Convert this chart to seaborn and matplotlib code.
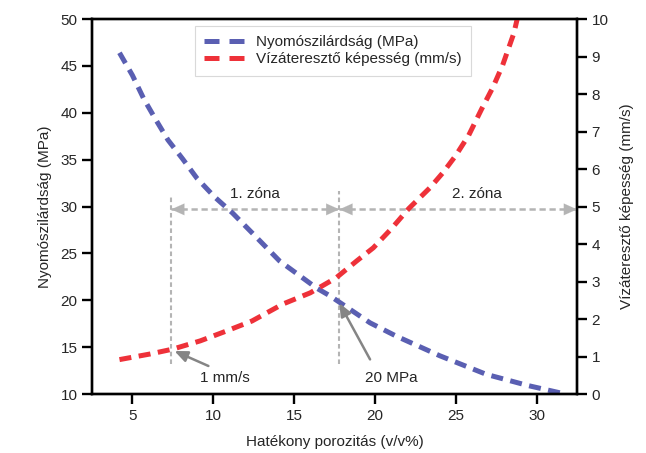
import matplotlib
matplotlib.use("Agg")
import matplotlib.pyplot as plt
from matplotlib.lines import Line2D
import seaborn as sns
import pandas as pd

# Compressive strength curve (left axis, MPa)
blue_x = [4.2, 5.0, 5.7, 6.4, 7.2, 8.1, 9.0, 10.1, 11.2, 12.4, 14.1, 16.4, 17.2,
          19.7, 21.3, 24.0, 26.9, 29.5, 31.8]
blue_y = [46.4, 44.0, 41.5, 39.4, 37.1, 35.1, 33.0, 31.0, 29.3, 27.2, 24.2, 21.3, 20.5,
          17.6, 16.2, 14.1, 12.1, 10.9, 10.0]

# Permeability curve (right axis, mm/s)
red_x = [4.2, 6.1, 7.5, 9.2, 10.8, 12.4, 14.3, 16.0, 17.6, 18.9, 19.9, 21.0, 22.1,
         23.4, 24.2, 25.0, 25.8, 26.6, 27.3, 27.9, 28.6, 28.8]
red_y = [0.92, 1.07, 1.2, 1.42, 1.68, 1.95, 2.4, 2.7, 3.1, 3.56, 3.9, 4.4, 4.95,
         5.5, 5.9, 6.36, 6.9, 7.6, 8.18, 8.77, 9.63, 10.0]

blue_label = "Nyomószilárdság (MPa)"
red_label = "Vízáteresztő képesség (mm/s)"

zone_x = [7.4, 17.8, 32.5]
zone_y = 29.7
zone_labels = ["1. zóna", "2. zóna"]

BLUE = "#5a5fb2"
RED = "#ee3139"
GRAY = "#b4b4b4"
DARK_GRAY = "#858585"

sns.set_style("ticks")
plt.rcParams["font.family"] = ["Liberation Sans", "DejaVu Sans"]
plt.rcParams["font.size"] = 11

fig = plt.figure(figsize=(6.46, 4.53), dpi=100)
ax = fig.add_axes([0.1424, 0.130, 0.7508, 0.828])
ax2 = ax.twinx()

df_blue = pd.DataFrame({"x": blue_x, "y": blue_y})
df_red = pd.DataFrame({"x": red_x, "y": red_y})

sns.lineplot(data=df_blue, x="x", y="y", ax=ax, color=BLUE, lw=3.6,
             dashes=False, sort=False, legend=False)
ax.lines[-1].set_dashes((2.4, 1.5))
sns.lineplot(data=df_red, x="x", y="y", ax=ax2, color=RED, lw=3.6,
             dashes=False, sort=False, legend=False)
ax2.lines[-1].set_dashes((2.4, 1.5))

ax.set_xlim(2.5, 32.5)
ax.set_ylim(10, 50)
ax2.set_ylim(0, 10)
ax.set_xticks(range(5, 31, 5))
ax.set_yticks(range(10, 51, 5))
ax2.set_yticks(range(0, 11))

ax.set_xlabel("Hatékony porozitás (v/v%)", fontsize=11, labelpad=9)
ax.set_ylabel(blue_label, fontsize=11, labelpad=6)
ax2.set_ylabel(red_label, fontsize=11, labelpad=8)

for a in (ax, ax2):
    for sp in a.spines.values():
        sp.set_linewidth(1.7)
        sp.set_color("black")
    a.tick_params(width=1.7, length=7, labelsize=11, color="black")

# zone guides
for vx, top in [(zone_x[0], 31.0), (zone_x[1], 31.7)]:
    ax.plot([vx, vx], [13.2, top], color=GRAY, lw=1.5, ls=(0, (2.2, 1.5)), zorder=1)
for x0, x1 in [(zone_x[0], zone_x[1]), (zone_x[1], zone_x[2])]:
    ax.plot([x0, x1], [zone_y, zone_y], color=GRAY, lw=1.8, ls=(0, (2.5, 1.5)), zorder=1)
    for tip, tail in [(x0, x0 + 1.0), (x1, x1 - 1.0)]:
        ax.annotate("", xy=(tip, zone_y), xytext=(tail, zone_y),
                    arrowprops=dict(arrowstyle="-|>,head_length=0.85,head_width=0.38",
                                    color=GRAY, lw=0.1, shrinkA=0, shrinkB=0),
                    annotation_clip=False)
ax.text(12.6, 31.3, zone_labels[0], ha="center", va="center", fontsize=11)
ax.text(26.3, 31.3, zone_labels[1], ha="center", va="center", fontsize=11)

# point callouts
ax.annotate("", xy=(7.6, 14.6), xytext=(9.7, 13.0),
            arrowprops=dict(arrowstyle="-|>,head_length=0.7,head_width=0.3",
                            color=DARK_GRAY, lw=1.8, shrinkA=0, shrinkB=0))
ax.text(10.7, 11.7, "1 mm/s", ha="center", va="center", fontsize=11)
ax.annotate("", xy=(17.8, 19.7), xytext=(19.7, 13.7),
            arrowprops=dict(arrowstyle="-|>,head_length=0.7,head_width=0.3",
                            color=DARK_GRAY, lw=1.8, shrinkA=0, shrinkB=0))
ax.text(21.0, 11.7, "20 MPa", ha="center", va="center", fontsize=11)

handles = [Line2D([], [], color=BLUE, lw=3.6, dashes=(3.0, 2.0)),
           Line2D([], [], color=RED, lw=3.6, dashes=(3.0, 2.0))]
leg = ax2.legend(handles, [blue_label, red_label], loc="upper left",
                 bbox_to_anchor=(0.212, 0.981), borderaxespad=0, fontsize=11,
                 frameon=True, fancybox=False, handlelength=2.6, handletextpad=0.8,
                 borderpad=0.6, labelspacing=0.2)
leg.get_frame().set_edgecolor("#d0d0d0")
leg.get_frame().set_linewidth(0.8)

fig.savefig("out.png", dpi=100)
